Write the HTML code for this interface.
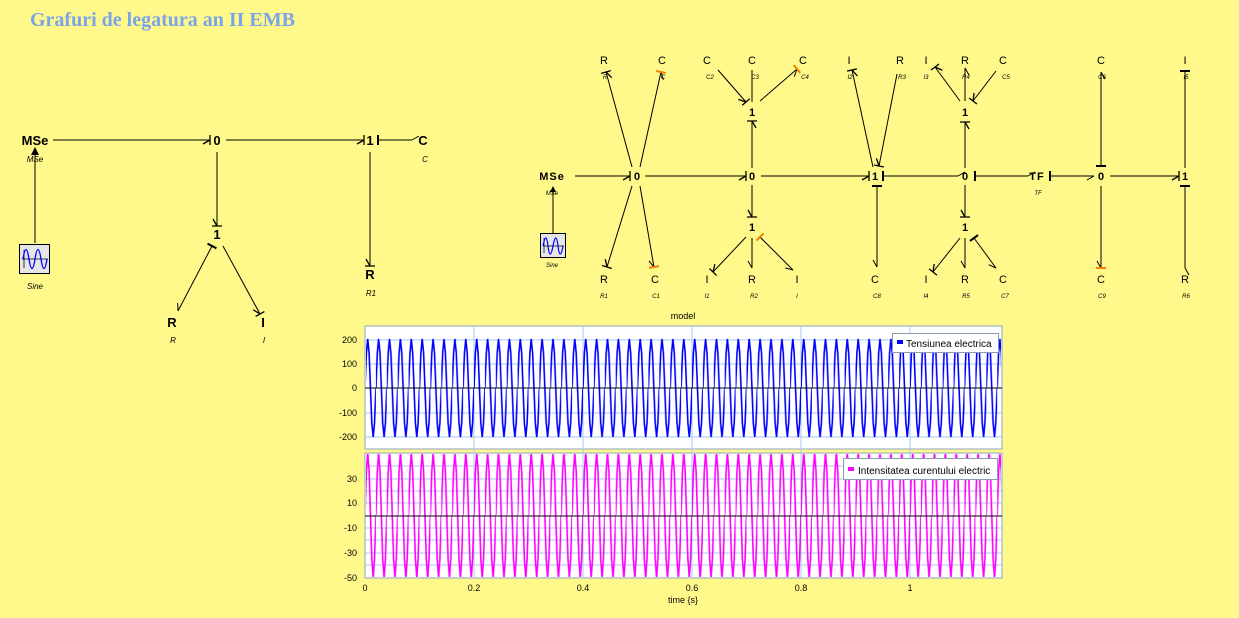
<!DOCTYPE html>
<html><head><meta charset="utf-8"><style>
html,body{margin:0;padding:0;background:#fff98c;}
svg{display:block;font-family:"Liberation Sans",sans-serif;}
</style></head><body>
<svg width="1239" height="618" viewBox="0 0 1239 618" xmlns="http://www.w3.org/2000/svg">
<defs>
<marker id="h" markerUnits="userSpaceOnUse" markerWidth="20" markerHeight="20" refX="10" refY="10" orient="auto" viewBox="0 0 20 20"><path d="M10,10 L3,14" stroke="#000" stroke-width="1" fill="none"/></marker>
<marker id="hb" markerUnits="userSpaceOnUse" markerWidth="20" markerHeight="20" refX="10" refY="10" orient="auto" viewBox="0 0 20 20"><path d="M10,10 L3,14 M10,5 L10,15" stroke="#000" stroke-width="1.3" fill="none"/></marker>
<marker id="b" markerUnits="userSpaceOnUse" markerWidth="20" markerHeight="20" refX="10" refY="10" orient="auto" viewBox="0 0 20 20"><path d="M10,5 L10,15" stroke="#000" stroke-width="2" fill="none"/></marker>
<marker id="ho" markerUnits="userSpaceOnUse" markerWidth="20" markerHeight="20" refX="10" refY="10" orient="auto" viewBox="0 0 20 20"><path d="M10,10 L3,14" stroke="#000" stroke-width="1" fill="none"/><path d="M10,5 L10,15" stroke="#f08000" stroke-width="2"/></marker>
<marker id="bo" markerUnits="userSpaceOnUse" markerWidth="20" markerHeight="20" refX="10" refY="10" orient="auto" viewBox="0 0 20 20"><path d="M10,5 L10,15" stroke="#f08000" stroke-width="2"/></marker>
<pattern id="pt" patternUnits="userSpaceOnUse" x="365" y="0" width="10.9" height="618">
<polyline fill="none" stroke="#0000ff" stroke-width="1.6" points="0,388 1.4,353 2.7,339 4.1,353 5.45,388 6.8,423 8.2,437 9.5,423 10.9,388"/>
</pattern>
<pattern id="pb" patternUnits="userSpaceOnUse" x="365" y="0" width="10.9" height="618">
<polyline fill="none" stroke="#ff00ff" stroke-width="1.6" points="0,515 1.4,471 2.7,453 4.1,471 5.45,515 6.8,559 8.2,578 9.5,559 10.9,515"/>
</pattern>
</defs>

<text x="30" y="26" font-family="Liberation Serif,serif" font-weight="bold" font-size="20" fill="#7aa4e8">Grafuri de legatura an II EMB</text>

<!-- LEFT DIAGRAM -->
<g stroke="#000" stroke-width="1" fill="none">
<line x1="53" y1="140" x2="210" y2="140" marker-end="url(#hb)"/>
<line x1="226" y1="140" x2="364" y2="140" marker-end="url(#hb)"/>
<line x1="412" y1="140" x2="378" y2="140" marker-start="url(#h)" marker-end="url(#b)" />
<line x1="217" y1="152" x2="217" y2="226" marker-end="url(#hb)"/>
<line x1="212" y1="246" x2="178" y2="311" marker-start="url(#b)" marker-end="url(#h)"/>
<line x1="223" y1="246" x2="260" y2="314" marker-end="url(#hb)"/>
<line x1="370" y1="152" x2="370" y2="266" marker-end="url(#hb)"/>
<line x1="35" y1="243" x2="35" y2="150"/>
</g>
<path d="M35,147 L31,155 L39,155 Z" fill="#000"/>
<rect x="19.5" y="244.5" width="30" height="29" fill="#e6e6e6" stroke="#000"/>
<path d="M22,259 H48 M24,250 V268" stroke="#000" stroke-width="0.8"/>
<path d="M23,259 Q26,240 29,259 T35,259 T41,259 T47,259" stroke="#0000ff" fill="none" stroke-width="1.3"/>
<g font-weight="bold" font-size="13" fill="#000" text-anchor="middle">
<text x="35" y="145">MSe</text><text x="217" y="145">0</text><text x="370" y="145">1</text><text x="423" y="145">C</text>
<text x="217" y="239">1</text><text x="172" y="327">R</text><text x="263" y="327">I</text><text x="370" y="279">R</text>
</g>
<g font-style="italic" font-size="8" fill="#000" text-anchor="middle">
<text x="35" y="162">MSe</text><text x="35" y="289">Sine</text><text x="425" y="162">C</text><text x="371" y="296">R1</text><text x="173" y="343">R</text><text x="264" y="343">I</text>
</g>

<!-- RIGHT DIAGRAM -->
<g stroke="#000" stroke-width="1" fill="none">
<line x1="575" y1="176" x2="630" y2="176" marker-end="url(#hb)"/>
<line x1="645" y1="176" x2="746" y2="176" marker-end="url(#hb)"/>
<line x1="761" y1="176" x2="869" y2="176" marker-end="url(#hb)"/>
<line x1="958" y1="176" x2="883" y2="176" marker-start="url(#h)" marker-end="url(#b)"/>
<line x1="1028" y1="176" x2="975" y2="176" marker-start="url(#h)" marker-end="url(#b)"/>
<line x1="1050" y1="176" x2="1094" y2="176" marker-start="url(#b)" marker-end="url(#h)"/>
<line x1="1110" y1="176" x2="1179" y2="176" marker-end="url(#hb)"/>
<line x1="632" y1="167" x2="606" y2="72" marker-end="url(#hb)"/>
<line x1="640" y1="167" x2="661" y2="72" marker-end="url(#ho)"/>
<line x1="632" y1="186" x2="607" y2="267" marker-end="url(#hb)"/>
<line x1="640" y1="186" x2="654" y2="267" marker-end="url(#ho)"/>
<line x1="752" y1="168" x2="752" y2="121" marker-end="url(#hb)"/>
<line x1="752" y1="185" x2="752" y2="217" marker-end="url(#hb)"/>
<line x1="718" y1="70" x2="746" y2="102" marker-end="url(#hb)"/>
<line x1="752" y1="102" x2="752" y2="70"/>
<line x1="760" y1="101" x2="797" y2="69" marker-end="url(#ho)"/>
<line x1="746" y1="237" x2="713" y2="272" marker-end="url(#hb)"/>
<line x1="752" y1="238" x2="752" y2="268" marker-end="url(#h)"/>
<line x1="760" y1="237" x2="793" y2="270" marker-start="url(#bo)" marker-end="url(#h)"/>
<line x1="873" y1="167" x2="852" y2="70" marker-end="url(#hb)"/>
<line x1="897" y1="74" x2="879" y2="166" marker-end="url(#hb)"/>
<line x1="877" y1="186" x2="877" y2="267" marker-start="url(#b)" marker-end="url(#h)"/>
<line x1="960" y1="101" x2="935" y2="67" marker-end="url(#hb)"/>
<line x1="965" y1="101" x2="965" y2="68" marker-end="url(#h)"/>
<line x1="996" y1="71" x2="973" y2="101" marker-end="url(#hb)"/>
<line x1="965" y1="168" x2="965" y2="122" marker-end="url(#hb)"/>
<line x1="965" y1="185" x2="965" y2="217" marker-end="url(#hb)"/>
<line x1="960" y1="238" x2="933" y2="272" marker-end="url(#hb)"/>
<line x1="965" y1="238" x2="965" y2="268" marker-end="url(#h)"/>
<line x1="974" y1="238" x2="996" y2="268" marker-start="url(#b)" marker-end="url(#h)"/>
<line x1="1101" y1="166" x2="1101" y2="72" marker-start="url(#b)" marker-end="url(#h)"/>
<line x1="1101" y1="186" x2="1101" y2="268" marker-end="url(#ho)"/>
<line x1="1185" y1="168" x2="1185" y2="71" marker-end="url(#b)"/>
<line x1="1185" y1="268" x2="1185" y2="186" marker-start="url(#h)" marker-end="url(#b)"/>
<line x1="553" y1="233" x2="553" y2="190"/>
</g>
<path d="M553,186 L550,192 L556,192 Z" fill="#000"/>
<rect x="540.5" y="233.5" width="25" height="24" fill="#e6e6e6" stroke="#000"/>
<path d="M543,246 H564 M544,238 V253" stroke="#000" stroke-width="0.7"/>
<path d="M543,246 Q546,230 548,246 T553,246 T558,246 T563,246" stroke="#0000ff" fill="none" stroke-width="1.2"/>
<g font-weight="bold" font-size="11" fill="#000" text-anchor="middle">
<text x="552" y="180" letter-spacing="1">MSe</text>
<text x="637" y="180">0</text><text x="752" y="180">0</text><text x="752" y="116">1</text><text x="752" y="231">1</text>
<text x="875" y="180">1</text><text x="965" y="180">0</text><text x="965" y="116">1</text><text x="965" y="231">1</text>
<text x="1037" y="180" letter-spacing="1">TF</text><text x="1101" y="180">0</text><text x="1185" y="180">1</text>
</g>
<g font-size="11" fill="#000" text-anchor="middle">
<text x="604" y="64">R</text><text x="662" y="64">C</text><text x="707" y="64">C</text><text x="752" y="64">C</text><text x="803" y="64">C</text>
<text x="849" y="64">I</text><text x="900" y="64">R</text><text x="926" y="64">I</text><text x="965" y="64">R</text><text x="1003" y="64">C</text>
<text x="1101" y="64">C</text><text x="1185" y="64">I</text>
<text x="604" y="283">R</text><text x="655" y="283">C</text><text x="707" y="283">I</text><text x="752" y="283">R</text><text x="797" y="283">I</text>
<text x="875" y="283">C</text><text x="926" y="283">I</text><text x="965" y="283">R</text><text x="1003" y="283">C</text>
<text x="1101" y="283">C</text><text x="1185" y="283">R</text>
</g>
<g font-style="italic" font-size="6" fill="#000" text-anchor="middle">
<text x="605" y="79">R</text><text x="663" y="79">C</text><text x="710" y="79">C2</text><text x="755" y="79">C3</text><text x="805" y="79">C4</text>
<text x="850" y="79">I2</text><text x="902" y="79">R3</text><text x="926" y="79">I3</text><text x="966" y="79">R4</text><text x="1006" y="79">C5</text>
<text x="1102" y="79">C6</text><text x="1186" y="79">I5</text>
<text x="604" y="298">R1</text><text x="656" y="298">C1</text><text x="707" y="298">I1</text><text x="754" y="298">R2</text><text x="797" y="298">I</text>
<text x="877" y="298">C8</text><text x="926" y="298">I4</text><text x="966" y="298">R5</text><text x="1005" y="298">C7</text>
<text x="1102" y="298">C9</text><text x="1186" y="298">R6</text>
<text x="552" y="195">MSe</text><text x="552" y="267">Sine</text><text x="1038" y="195">TF</text>
</g>

<!-- PLOT -->
<text x="683" y="319" font-size="9" text-anchor="middle">model</text>
<rect x="365" y="326" width="637" height="123" fill="#fff" stroke="#8ea4c8"/>
<rect x="365" y="453" width="637" height="125" fill="#fff" stroke="#8ea4c8"/>
<g stroke="#a8c8f0" stroke-width="1">
<line x1="365" y1="340" x2="1002" y2="340"/><line x1="365" y1="364" x2="1002" y2="364"/><line x1="365" y1="413" x2="1002" y2="413"/><line x1="365" y1="437" x2="1002" y2="437"/>
<line x1="474" y1="326" x2="474" y2="578"/><line x1="583" y1="326" x2="583" y2="578"/><line x1="692" y1="326" x2="692" y2="578"/><line x1="801" y1="326" x2="801" y2="578"/><line x1="910" y1="326" x2="910" y2="578"/>
<line x1="365" y1="466" x2="1002" y2="466"/><line x1="365" y1="479" x2="1002" y2="479"/><line x1="365" y1="491" x2="1002" y2="491"/><line x1="365" y1="503" x2="1002" y2="503"/>
<line x1="365" y1="528" x2="1002" y2="528"/><line x1="365" y1="540" x2="1002" y2="540"/><line x1="365" y1="553" x2="1002" y2="553"/><line x1="365" y1="565" x2="1002" y2="565"/>
</g>
<rect x="366" y="327" width="635" height="121" fill="url(#pt)"/>
<rect x="366" y="454" width="635" height="123" fill="url(#pb)"/>
<line x1="365" y1="388" x2="1002" y2="388" stroke="#000"/>
<line x1="365" y1="516" x2="1002" y2="516" stroke="#000"/>
<g font-size="9" fill="#000" text-anchor="end">
<text x="357" y="343">200</text><text x="357" y="367">100</text><text x="357" y="391">0</text><text x="357" y="416">-100</text><text x="357" y="440">-200</text>
<text x="357" y="482">30</text><text x="357" y="506">10</text><text x="357" y="531">-10</text><text x="357" y="556">-30</text><text x="357" y="581">-50</text>
</g>
<g font-size="9" fill="#000" text-anchor="middle">
<text x="365" y="591">0</text><text x="474" y="591">0.2</text><text x="583" y="591">0.4</text><text x="692" y="591">0.6</text><text x="801" y="591">0.8</text><text x="910" y="591">1</text>
<text x="683" y="603">time {s}</text>
</g>
<rect x="892.5" y="333.5" width="106" height="19" fill="#fff" stroke="#8a9ab0"/>
<rect x="897" y="340" width="6" height="4" fill="#0000ff"/>
<text x="906" y="347" font-size="10">Tensiunea electrica</text>
<rect x="843.5" y="458.5" width="154" height="21" fill="#fff" stroke="#8a9ab0"/>
<rect x="848" y="467" width="6" height="4" fill="#ff00ff"/>
<text x="858" y="474" font-size="10">Intensitatea curentului electric</text>
</svg>
</body></html>
